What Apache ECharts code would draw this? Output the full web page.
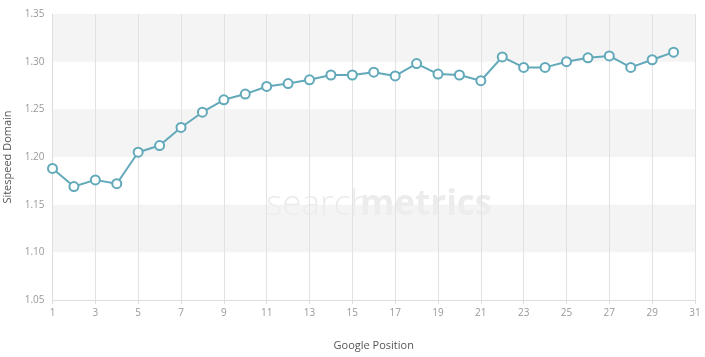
<!DOCTYPE html>
<html><head><meta charset="utf-8">
<script src="https://cdn.jsdelivr.net/npm/echarts@6/dist/echarts.min.js"></script>
<style>html,body{margin:0;padding:0;background:#fff}#c{width:705px;height:357px}</style>
</head><body><div id="c"></div>
<script>
var positions = ['1','2','3','4','5','6','7','8','9','10','11','12','13','14','15','16','17','18','19','20','21','22','23','24','25','26','27','28','29','30','31'];
var sitespeed = [1.188,1.169,1.176,1.172,1.205,1.212,1.231,1.247,1.260,1.266,1.274,1.277,1.281,1.286,1.286,1.289,1.285,1.298,1.287,1.286,1.280,1.305,1.294,1.294,1.300,1.304,1.306,1.294,1.302,1.310];
var yMin = 1.05, yMax = 1.35, yStep = 0.05;
var font = 'Open Sans';
var chart = echarts.init(document.getElementById('c'));
chart.setOption({
  animation:false,
  grid:{left:52.5,right:10,top:14,bottom:57,containLabel:false,outerBoundsMode:'none'},
  graphic:[{type:'text',left:266,top:188,z:0,style:{text:'search',font:'300 35px "Open Sans"',fill:'#ebebeb'}},
           {type:'text',left:360,top:188,z:0,style:{text:'metrics',font:'700 35px "Open Sans"',fill:'#ececec'}}],
  xAxis:{type:'category',data:positions,boundaryGap:false,
    name:'Google Position',nameLocation:'middle',nameGap:40,
    nameTextStyle:{color:'#555',fontSize:11,fontFamily:font},
    axisLine:{lineStyle:{color:'#ddd'}},
    axisTick:{show:true,interval:1,length:4,lineStyle:{color:'#ddd'}},
    axisLabel:{interval:1,color:'#999',fontSize:10,fontFamily:font,margin:8},
    splitLine:{show:true,interval:1,lineStyle:{color:'#e2e2e2'}}},
  yAxis:{type:'value',min:yMin,max:yMax,interval:yStep,
    name:'Sitespeed Domain',nameLocation:'middle',nameGap:37,
    nameTextStyle:{color:'#555',fontSize:11,fontFamily:font},
    axisLine:{show:true,lineStyle:{color:'#ddd'}},
    axisTick:{show:false},
    axisLabel:{color:'#999',fontSize:10,fontFamily:font,margin:8,formatter:function(v){return v.toFixed(2);}},
    splitLine:{show:false},
    splitArea:{show:true,areaStyle:{color:['rgba(255,255,255,0)','rgba(238,238,238,0.65)']}}},
  series:[{type:'line',data:sitespeed,symbol:'circle',symbolSize:9,
    lineStyle:{color:'#62a9ba',width:2},
    itemStyle:{color:'#fff',borderColor:'#62a9ba',borderWidth:2}}]
});
</script></body></html>
